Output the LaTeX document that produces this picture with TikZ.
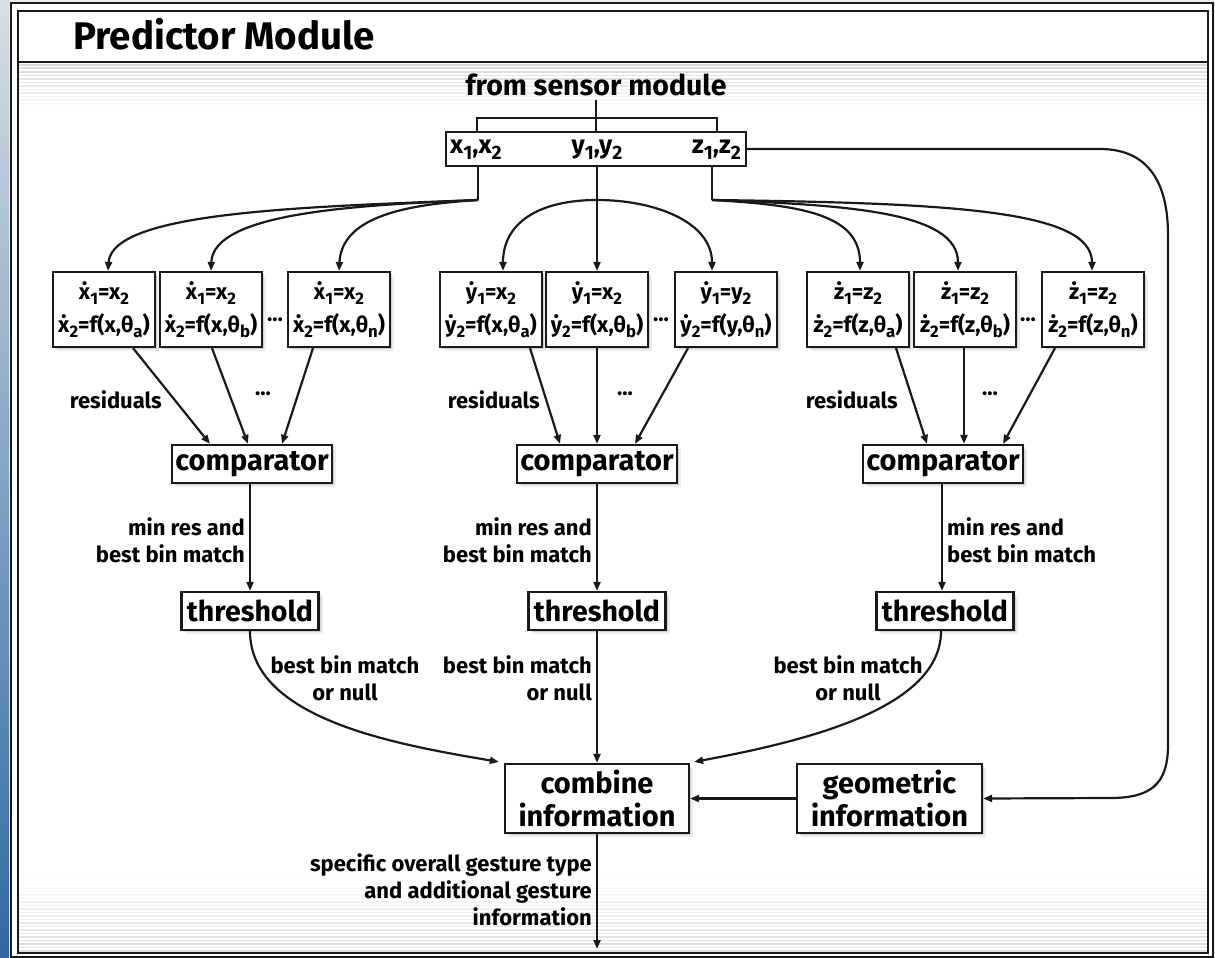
\documentclass[tikz,border=0pt]{standalone}
\usepackage{fontspec}
\setmainfont{Fira Sans}
\usepackage{graphicx}
\usetikzlibrary{arrows.meta,shadows,calc}
\definecolor{ln}{HTML}{1A1A1A}
\definecolor{pagebg}{HTML}{ECEEF0}
\definecolor{bluetop}{HTML}{D8DEE4}
\definecolor{bluemid}{HTML}{9DB3C8}
\definecolor{bluebot}{HTML}{2F6AA0}
\newcommand\lo[1]{\raisebox{-0.22em}{\scalebox{0.76}{#1}}}
\newcommand\dt[1]{#1^^^^0307}
\begin{document}
\begin{tikzpicture}[x=1pt,y=-1pt,
  box/.style={draw=ln,line width=2.2pt,fill=white,inner sep=0pt,
    drop shadow={shadow xshift=2pt,shadow yshift=-2pt,opacity=0.12,fill=black},
    drop shadow={shadow xshift=4pt,shadow yshift=-4pt,opacity=0.07,fill=black}},
  eqb/.style={box,minimum width=102pt,minimum height=75pt,align=center,font=\fontsize{22}{33}\selectfont\bfseries},
  cmp/.style={box,minimum width=160pt,minimum height=38pt,font=\fontsize{29}{30}\selectfont\bfseries},
  thr/.style={box,minimum width=137pt,minimum height=38pt,font=\fontsize{28.5}{30}\selectfont\bfseries},
  big/.style={box,minimum width=184pt,minimum height=69pt,align=center,font=\fontsize{29}{33}\selectfont\bfseries},
  lbl/.style={inner sep=0pt,font=\fontsize{22}{27}\selectfont\bfseries},
  dots/.style={inner sep=0pt,font=\fontsize{22}{24}\selectfont\bfseries},
  stx/.style={inner sep=0pt,font=\fontsize{25.5}{28}\selectfont\bfseries},
  cn/.style={draw=ln,line width=2.2pt},
  arr/.style={cn,-{Triangle[length=9pt,width=7pt]}}]
\useasboundingbox (0,0) rectangle (1215,958);
% page background and blue stripe
\fill[pagebg] (0,0) rectangle (1215,958);
\shade[top color=bluetop,middle color=bluemid,bottom color=bluebot] (0,0) rectangle (9,958);
% frame
\fill[white] (11,3) rectangle (1213,957);
\foreach \i in {0,...,12} {
  \pgfmathsetmacro\c{15-1.15*\i}
  \fill[black!\c] (19,64+3.5*\i) rectangle (1207,65.8+3.5*\i);
}
\foreach \i in {0,...,22} {
  \pgfmathsetmacro\c{0.6*\i}
  \fill[black!\c] (19,873+3.5*\i) rectangle (1207,874.8+3.5*\i);
}
\draw[ln,line width=1.8pt] (11,3) rectangle (1213,957);
\draw[ln,line width=2.2pt] (18,11) rectangle (1208,953);
\draw[ln,line width=2.2pt] (18,62) -- (1208,62);
\node[anchor=base west,inner sep=0pt,font=\fontsize{38.5}{40}\selectfont\bfseries] (title) at (73,50) {Predictor Module};

% sensor input
\node[inner sep=0pt,font=\fontsize{28.5}{30}\selectfont\bfseries] (from) at (596,85) {from sensor module};
\node[draw=ln,line width=2.2pt,fill=white,minimum width=300pt,minimum height=34pt,inner sep=0pt] (sens) at (596,149) {};
\node[stx,anchor=west] (sx) at (450,150) {x\lo{1},x\lo{2}};
\node[stx] (sy) at (597,150) {y\lo{1},y\lo{2}};
\node[stx,anchor=east] (sz) at (741,150) {z\lo{1},z\lo{2}};
\coordinate (brL) at (477,118);
\coordinate (brR) at (717,118);
\draw[cn] ($(from.south)+(0,4)$) -- (sens.north);
\draw[cn] (sens.north -| brL) -- (brL) -- (brR) -- (sens.north -| brR);

% equation boxes
\node[eqb] (xa) at (104,309.5) {\dt{x}\lo{1}=x\lo{2}\\\dt{x}\lo{2}=f(x,θ\lo{a})};
\node[eqb] (xb) at (211,309.5) {\dt{x}\lo{1}=x\lo{2}\\\dt{x}\lo{2}=f(x,θ\lo{b})};
\node[eqb] (xc) at (339,309.5) {\dt{x}\lo{1}=x\lo{2}\\\dt{x}\lo{2}=f(x,θ\lo{n})};
\node[eqb] (ya) at (491,309.5) {\dt{y}\lo{1}=x\lo{2}\\\dt{y}\lo{2}=f(x,θ\lo{a})};
\node[eqb] (yb) at (597,309.5) {\dt{y}\lo{1}=x\lo{2}\\\dt{y}\lo{2}=f(x,θ\lo{b})};
\node[eqb] (yc) at (726,309.5) {\dt{y}\lo{1}=y\lo{2}\\\dt{y}\lo{2}=f(y,θ\lo{n})};
\node[eqb] (za) at (858,309.5) {\dt{z}\lo{1}=z\lo{2}\\\dt{z}\lo{2}=f(z,θ\lo{a})};
\node[eqb] (zb) at (965,309.5) {\dt{z}\lo{1}=z\lo{2}\\\dt{z}\lo{2}=f(z,θ\lo{b})};
\node[eqb] (zc) at (1093,309.5) {\dt{z}\lo{1}=z\lo{2}\\\dt{z}\lo{2}=f(z,θ\lo{n})};
\node[dots] (xd) at (275,322) {···};
\node[dots] (yd) at (661,322) {···};
\node[dots] (zd) at (1028,322) {···};

% fan-out
\coordinate (xj) at (478,200);
\coordinate (yj) at (597,200);
\coordinate (zj) at (712,200);
\draw[cn] (sens.south -| xj) -- (xj);
\draw[cn] (sens.south -| zj) -- (zj);
\draw[arr] (xj) .. controls (300,207) and (112,212) .. ($(xa.north)+(4,0)$);
\draw[arr] (xj) .. controls (360,205) and (213,212) .. (xb.north);
\draw[arr] (xj) .. controls (420,204) and (342,212) .. (xc.north);
\draw[arr] (sens.south -| yj) -- (yb.north);
\draw[arr] (yj) .. controls (540,200) and (503,222) .. ($(ya.north)+(12,0)$);
\draw[arr] (yj) .. controls (655,200) and (712,222) .. ($(yc.north)+(-14,0)$);
\draw[arr] (zj) .. controls (800,205) and (860,214) .. ($(za.north)+(2,0)$);
\draw[arr] (zj) .. controls (850,205) and (958,212) .. ($(zb.north)+(-7,0)$);
\draw[arr] (zj) .. controls (950,203) and (1092,210) .. ($(zc.north)+(-1,0)$);

% comparators
\node[cmp] (cL) at (252,464) {comparator};
\node[cmp] (cM) at (597,464) {comparator};
\node[cmp] (cR) at (943,464) {comparator};
\draw[arr] ($(xa.south)+(29,0)$) -- ($(cL.north)+(-42,0)$);
\draw[arr] ($(xb.south)+(1,0)$) -- ($(cL.north)+(-4,0)$);
\draw[arr] ($(xc.south)+(-26,0)$) -- ($(cL.north)+(30,0)$);
\draw[arr] ($(ya.south)+(39,0)$) -- ($(cM.north)+(-37,0)$);
\draw[arr] (yb.south) -- (cM.north);
\draw[arr] ($(yc.south)+(-38,0)$) -- ($(cM.north)+(38,0)$);
\draw[arr] ($(za.south)+(38,0)$) -- ($(cR.north)+(-16,0)$);
\draw[arr] ($(zb.south)+(-1,0)$) -- ($(cR.north)+(21,0)$);
\draw[arr] ($(zc.south)+(-38,0)$) -- ($(cR.north)+(60,0)$);
\node[lbl,anchor=east] (rL) at (162,400) {residuals};
\node[lbl,anchor=east] (rM) at (540,400) {residuals};
\node[lbl,anchor=east] (rR) at (898,400) {residuals};
\node[dots] (dL) at (263,396) {···};
\node[dots] (dM) at (625,396) {···};
\node[dots] (dR) at (990,396) {···};

% thresholds
\node[thr] (tL) at (250,611) {threshold};
\node[thr] (tM) at (597,611) {threshold};
\node[thr] (tR) at (945,611) {threshold};
\draw[arr] ($(cL.south)+(-2,0)$) -- ($(tL.north)$);
\draw[arr] (cM.south) -- (tM.north);
\draw[arr] ($(cR.south)+(-1,0)$) -- ($(tR.north)+(-3,0)$);
\node[lbl,anchor=east,align=right] (mL) at (245,540) {min res and\\best bin match};
\node[lbl,anchor=east,align=right] (mM) at (592,540) {min res and\\best bin match};
\node[lbl,anchor=west,align=left] (mR) at (947,540) {min res and\\best bin match};

% combine
\node[big] (comb) at (597,798.5) {combine\\information};
\node[big,minimum width=185pt] (geo) at (889.5,798.5) {geometric\\information};
\draw[arr] (tL.south) .. controls (250,720) and (400,745) .. ($(comb.north west)+(-5,-1)$);
\draw[arr] (tM.south) -- (comb.north);
\draw[arr] ($(tR.south)+(-4,0)$) .. controls (941,710) and (800,742) .. ($(comb.north east)+(4,-1)$);
\node[lbl,align=center] (bL) at (345,678) {best bin match\\or null};
\node[lbl,anchor=east,align=right] (bM) at (592,678) {best bin match\\or null};
\node[lbl,align=center] (bR) at (848,678) {best bin match\\or null};
\draw[arr] (geo.west) -- (comb.east);
\coordinate (zr1) at (1100,149);
\coordinate (zr2) at (1168,235);
\coordinate (zr3) at (1168,745);
\coordinate (zr4) at (1110,798);
\draw[arr] (sens.east) -- (zr1) .. controls (1150,149) and (1168,185) .. (zr2) -- (zr3) .. controls (1168,785) and (1150,798) .. (zr4) -- (geo.east);

% output
\coordinate (out) at (597,949);
\draw[arr] (comb.south) -- (out);
\node[lbl,anchor=east,align=right] (oL) at (592,890) {specific overall gesture type\\and additional gesture\\information};
\end{tikzpicture}
\end{document}
